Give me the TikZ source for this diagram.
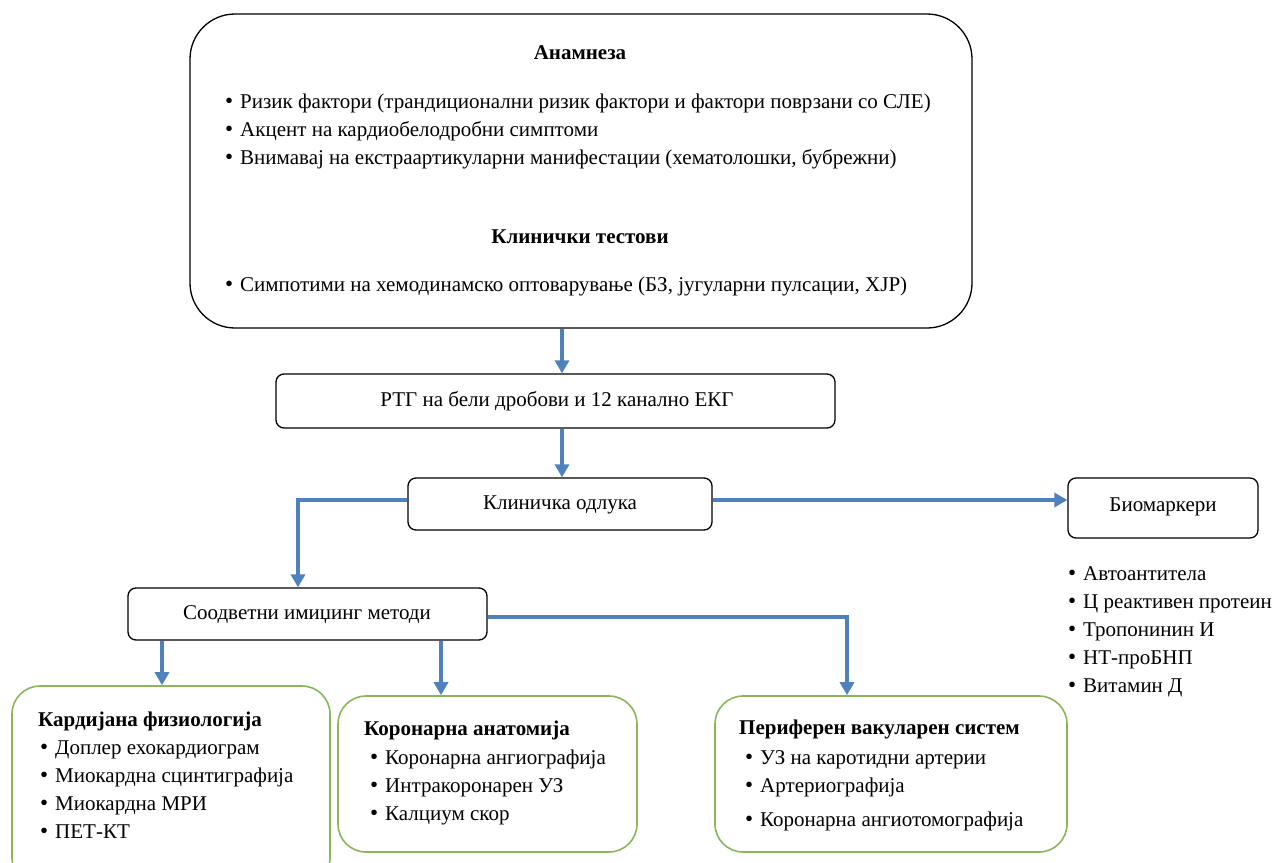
\documentclass[tikz,border=0pt]{standalone}
\usepackage{fontspec}
\setmainfont{Liberation Serif}
\usetikzlibrary{arrows.meta}
\definecolor{arrowblue}{RGB}{79,129,189}
\definecolor{boxgreen}{RGB}{139,181,90}
\newcommand{\bl}[1]{\makebox[15pt][l]{\fontsize{23}{23}\selectfont•}#1}
\begin{document}
\begin{tikzpicture}[x=1pt,y=-1pt,
  txt/.style={font=\fontsize{21}{25}\selectfont, inner sep=0pt, anchor=base west},
  ttl/.style={font=\fontsize{21}{25}\selectfont\bfseries, inner sep=0pt, anchor=base},
  ttlw/.style={font=\fontsize{21}{25}\selectfont\bfseries, inner sep=0pt, anchor=base west},
  ctr/.style={font=\fontsize{21}{25}\selectfont, inner sep=0pt, anchor=base},
  bigbox/.style={draw=black, line width=1.3pt, rounded corners=45pt, inner sep=0pt},
  smallbox/.style={draw=black, line width=1.3pt, rounded corners=8pt, inner sep=0pt},
  greenbox/.style={draw=boxgreen, line width=1.6pt, rounded corners=28pt, inner sep=0pt},
  conn/.style={draw=arrowblue, line width=4pt, -{Triangle[width=14pt,length=13pt]}},
]
\useasboundingbox (0,0) rectangle (1276,862);

% top box
\node[bigbox, minimum width=782pt, minimum height=314pt] (anam) at (581,171) {};
\node[ttl] (t1) at (580,59) {Анамнеза};
\node[txt] (a1) at (225,108) {\bl{Ризик фактори (трандиционални ризик фактори и фактори поврзани со СЛЕ)}};
\node[txt] (a2) at (225,136) {\bl{Акцент на кардиобелодробни симптоми}};
\node[txt] (a3) at (225,164) {\bl{Внимавај на екстраартикуларни манифестации (хематолошки, бубрежни)}};
\node[ttl] (t2) at (580,243) {Клинички тестови};
\node[txt] (a4) at (225,291) {\bl{Симпотими на хемодинамско оптоварување (БЗ, југуларни пулсации, ХЈР)}};

% RTG
\node[smallbox, minimum width=559pt, minimum height=54pt] (rtg) at (555.5,401) {};
\node[ctr] (rtgt) at (557,406) {РТГ на бели дробови и 12 канално ЕКГ};

% decision
\node[smallbox, minimum width=304pt, minimum height=52pt] (dec) at (560,504) {};
\node[ctr] (dect) at (560,509) {Клиничка одлука};

% biomarkers
\node[smallbox, minimum width=190pt, minimum height=60pt] (bio) at (1163,508) {};
\node[ctr] (biot) at (1163,511) {Биомаркери};
\node[txt] (b1) at (1068,580) {\bl{Автоантитела}};
\node[txt] (b2) at (1068,608) {\bl{Ц реактивен протеин}};
\node[txt] (b3) at (1068,636) {\bl{Тропонинин И}};
\node[txt] (b4) at (1068,664) {\bl{НТ-проБНП}};
\node[txt] (b5) at (1068,692) {\bl{Витамин Д}};

% imaging
\node[smallbox, minimum width=359pt, minimum height=52pt] (img) at (307.5,614) {};
\node[ctr] (imgt) at (307,619) {Соодветни имиџинг методи};

% green boxes
\node[greenbox, minimum width=318pt, minimum height=200pt] (g1) at (171,786) {};
\node[ttlw] (g1t) at (38,726) {Кардијана физиологија};
\node[txt] (g1a) at (40,754) {\bl{Доплер ехокардиограм}};
\node[txt] (g1b) at (40,782) {\bl{Миокардна сцинтиграфија}};
\node[txt] (g1c) at (40,810) {\bl{Миокардна МРИ}};
\node[txt] (g1d) at (40,838) {\bl{ПЕТ-КТ}};

\node[greenbox, minimum width=299pt, minimum height=156pt] (g2) at (487.5,774) {};
\node[ttlw] (g2t) at (364,735) {Коронарна анатомија};
\node[txt] (g2a) at (370,764) {\bl{Коронарна ангиографија}};
\node[txt] (g2b) at (370,792) {\bl{Интракоронарен УЗ}};
\node[txt] (g2c) at (370,820) {\bl{Калциум скор}};

\node[greenbox, minimum width=352pt, minimum height=156pt] (g3) at (891,774) {};
\node[ttlw] (g3t) at (739,734) {Периферен вакуларен систем};
\node[txt] (g3a) at (745,764) {\bl{УЗ на каротидни артерии}};
\node[txt] (g3b) at (745,792) {\bl{Артериографија}};
\node[txt] (g3c) at (745,826) {\bl{Коронарна ангиотомографија}};

% connectors
\draw[conn] (anam.south -| 562,0) -- (rtg.north -| 562,0);
\draw[conn] (rtg.south -| 562,0) -- (dec.north -| 562,0);
\draw[conn] (dec.west |- 0,500) -| (img.north -| 298,0);
\draw[conn] (dec.east |- 0,500) -- (bio.west |- 0,500);
\draw[conn] (img.south -| 162,0) -- (g1.north -| 162,0);
\draw[conn] (img.south -| 441,0) -- (g2.north -| 441,0);
\draw[conn] (img.east |- 0,617) -| (g3.north -| 847,0);
\end{tikzpicture}
\end{document}
